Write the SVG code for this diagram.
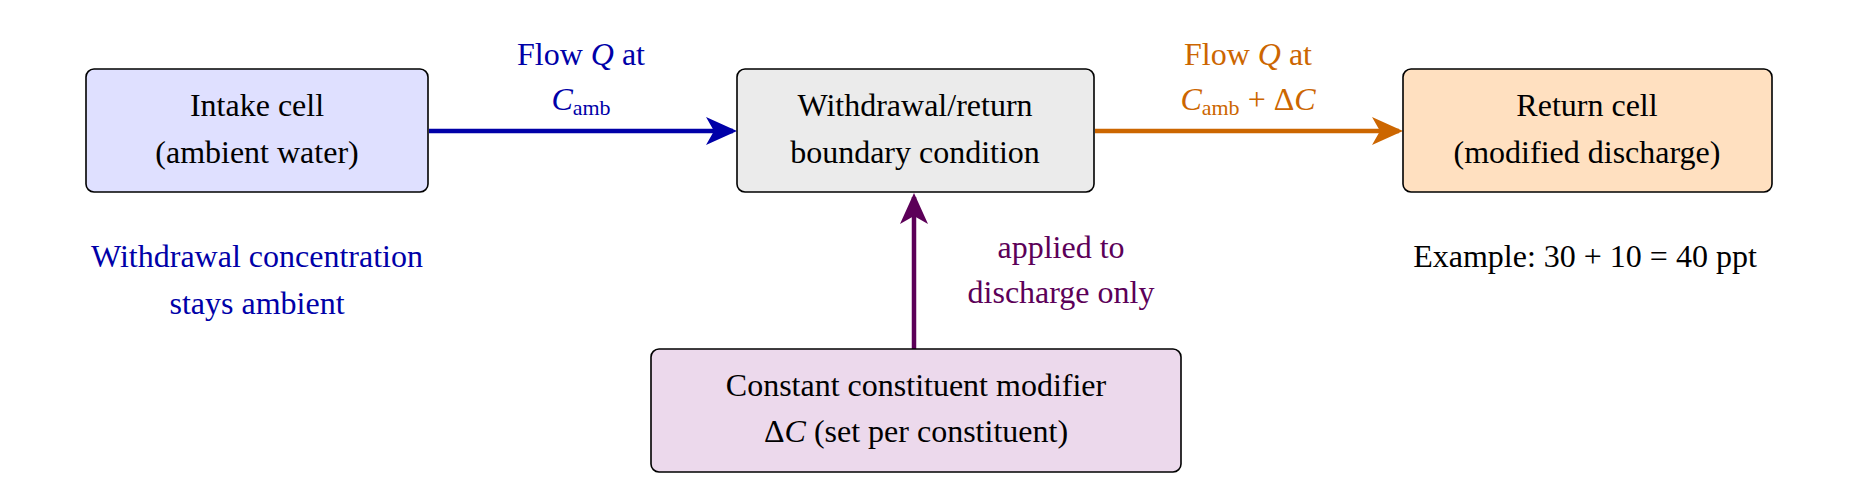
<svg xmlns="http://www.w3.org/2000/svg" width="1855" height="499" viewBox="0 0 1855 499" font-family="Liberation Serif, Times New Roman, serif">
<style>
text{font-family:'Liberation Serif','Times New Roman',serif;font-size:32px;text-anchor:middle}
.box{stroke:#000;stroke-width:1.6}
.sub{font-size:22px}
.it{font-style:italic}
</style>
<rect width="1855" height="499" fill="#fff"/>
<g id="connectors" fill="none" stroke-width="4.5">
<line x1="429" y1="131" x2="733" y2="131" stroke="#0000a8"/>
<path d="M706,117 L737,131 L706,145 L714,131 Z" fill="#0000a8" stroke="none"/>
<line x1="1095" y1="131" x2="1399" y2="131" stroke="#cc6600"/>
<path d="M1372,117 L1403,131 L1372,145 L1380,131 Z" fill="#cc6600" stroke="none"/>
<line x1="914" y1="349" x2="914" y2="197" stroke="#5c0058"/>
<path d="M900,224 L914,193 L928,224 L914,216 Z" fill="#5c0058" stroke="none"/>
</g>
<g id="intake"><rect class="box" x="86" y="69" width="342" height="123" rx="8" fill="#dfe0ff"/>
<text x="257" y="116">Intake cell</text><text x="257" y="163">(ambient water)</text></g>
<g id="boundary"><rect class="box" x="737" y="69" width="357" height="123" rx="8" fill="#ebebeb"/>
<text x="915" y="116">Withdrawal/return</text><text x="915" y="163">boundary condition</text></g>
<g id="return"><rect class="box" x="1403" y="69" width="369" height="123" rx="8" fill="#ffe0c0"/>
<text x="1587" y="116">Return cell</text><text x="1587" y="163">(modified discharge)</text></g>
<g id="modifier"><rect class="box" x="651" y="349" width="530" height="123" rx="8" fill="#ecd9ec"/>
<text x="916" y="396">Constant constituent modifier</text><text x="916" y="442">Δ<tspan class="it">C</tspan> (set per constituent)</text></g>
<g id="labels">
<text x="581" y="65" fill="#0000a8">Flow <tspan class="it">Q</tspan> at</text>
<text x="581" y="110" fill="#0000a8"><tspan class="it">C</tspan><tspan class="sub" dy="5">amb</tspan></text>
<text x="1248" y="65" fill="#cc6600">Flow <tspan class="it">Q</tspan> at</text>
<text x="1248" y="110" fill="#cc6600"><tspan class="it">C</tspan><tspan class="sub" dy="5">amb</tspan><tspan dy="-5"> + Δ</tspan><tspan class="it">C</tspan></text>
<text x="257" y="267" fill="#0000a8">Withdrawal concentration</text>
<text x="257" y="314" fill="#0000a8">stays ambient</text>
<text x="1061" y="258" fill="#5c0058">applied to</text>
<text x="1061" y="303" fill="#5c0058">discharge only</text>
<text x="1585" y="267">Example: 30 + 10 = 40 ppt</text>
</g>
</svg>
